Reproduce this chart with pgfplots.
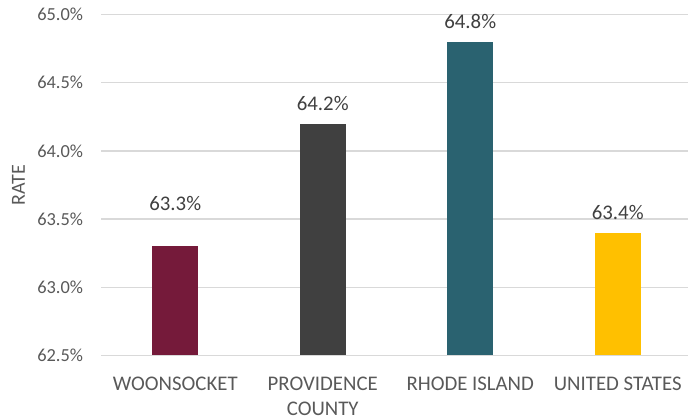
\documentclass[border=0pt]{standalone}
\usepackage{fontspec}
\setmainfont{Carlito}
\usepackage{pgfplots}
\pgfplotsset{compat=1.18}

\definecolor{woon}{HTML}{751A3A}
\definecolor{prov}{HTML}{404040}
\definecolor{ri}{HTML}{2A6270}
\definecolor{us}{HTML}{FFC000}
\definecolor{gridgray}{HTML}{D9D9D9}
\definecolor{ticktext}{HTML}{595959}
\definecolor{labeltext}{HTML}{404040}

\begin{document}
\begin{tikzpicture}
\begin{axis}[
  scale only axis,
  width=590bp, height=340.5bp,
  ybar, bar width=46bp, bar shift=0pt,
  xmin=-0.5, xmax=3.5,
  ymin=62.5, ymax=65,
  ytick={62.5,63,63.5,64,64.5,65},
  xtick={0,1,2,3},
  xticklabels={WOONSOCKET, PROVIDENCE\\COUNTY, RHODE ISLAND, UNITED STATES},
  axis line style={draw=none},
  major tick length=0pt,
  ymajorgrids,
  grid style={gridgray, line width=1.2bp},
  yticklabel={\pgfmathprintnumber[fixed,fixed zerofill,precision=1]{\tick}\%},
  /pgf/number format/assume math mode=true,
  yticklabel style={anchor=east, inner sep=0pt, xshift=-18.2bp,
    font=\fontsize{18.4bp}{22bp}\selectfont, text=ticktext},
  xticklabel style={anchor=north, inner sep=0pt, yshift=-21.3bp, align=center,
    font=\fontsize{20.8bp}{25.2bp}\selectfont, text=ticktext},
  ylabel={RATE},
  ylabel style={at={(axis description cs:-0.1297,0.5)}, anchor=base, inner sep=0pt,
    font=\fontsize{20bp}{24bp}\selectfont, text=ticktext},
  nodes near coords={\pgfmathprintnumber[fixed,fixed zerofill,precision=1]{\pgfplotspointmeta}\%},
  nodes near coords style={anchor=south, inner sep=0pt, yshift=12.8bp,
    font=\fontsize{20.8bp}{25bp}\selectfont, text=labeltext},
  clip=false,
]
\addplot[fill=woon, draw=none, nodes near coords style={yshift=22.7bp}] coordinates {(0,63.3)};
\addplot[fill=prov, draw=none] coordinates {(1,64.2)};
\addplot[fill=ri, draw=none] coordinates {(2,64.8)};
\addplot[fill=us, draw=none] coordinates {(3,63.4)};
\end{axis}
\pgfresetboundingbox
\path[use as bounding box] (-101.5bp,-63.8bp) rectangle (586.5bp,355.2bp);
\end{tikzpicture}
\end{document}
